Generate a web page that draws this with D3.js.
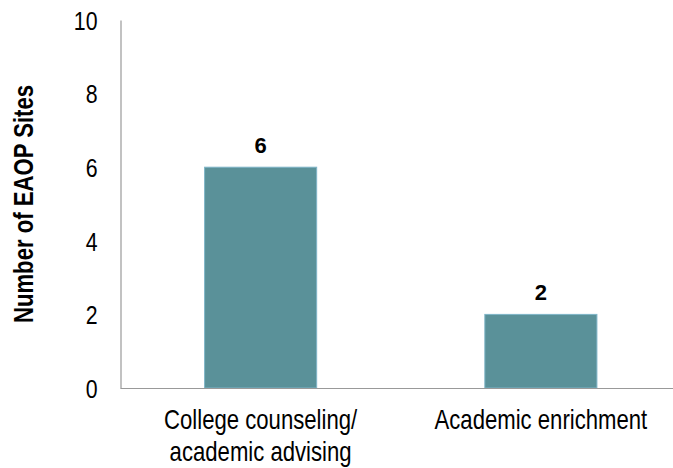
<!DOCTYPE html>
<html>
<head>
<meta charset="utf-8">
<script src="https://cdn.jsdelivr.net/npm/d3@7"></script>
<style>
  html, body { margin: 0; padding: 0; background: #fff; }
  svg { display: block; }
</style>
</head>
<body>
<svg id="chart" width="673" height="468"></svg>
<script>
// Services offered by EAOP sites
const categories = [["College counseling/", "academic advising"], ["Academic enrichment"]];
const siteCounts = [6, 2];
const yTicks = [0, 2, 4, 6, 8, 10];

const sans = "'Liberation Sans', Arial, sans-serif";
const condense = 0.82; // horizontal squeeze to get a narrow face

const svg = d3.select("#chart");
const plotLeft = 120.5, plotRight = 681, plotTop = 20, plotBottom = 388;

const x = d3.scaleBand()
  .domain(d3.range(categories.length))
  .range([plotLeft, plotRight])
  .paddingInner(0.6)
  .paddingOuter(0.3);

const y = d3.scaleLinear().domain([0, 10]).range([plotBottom, plotTop]);

// Bars
svg.selectAll("rect.bar")
  .data(siteCounts)
  .join("rect")
  .attr("class", "bar")
  .attr("x", (d, i) => x(i))
  .attr("width", x.bandwidth())
  .attr("y", d => y(d))
  .attr("height", d => y(0) - y(d))
  .attr("fill", "#5a9199")
  .attr("stroke", "#7fb5c8")
  .attr("stroke-width", 1);

// Value labels
svg.selectAll("text.value")
  .data(siteCounts)
  .join("text")
  .attr("class", "value")
  .attr("x", (d, i) => x(i) + x.bandwidth() / 2)
  .attr("y", d => y(d) - 14)
  .attr("text-anchor", "middle")
  .attr("font-family", sans)
  .attr("font-weight", "bold")
  .attr("font-size", 22)
  .attr("fill", "#000")
  .text(d => d);

// Y axis
const yAxis = svg.append("g")
  .attr("transform", `translate(${plotLeft},0)`)
  .call(d3.axisLeft(y).tickValues(yTicks).tickSize(0).tickPadding(0));
yAxis.select(".domain").attr("stroke", "#999").attr("stroke-width", 1.2);
yAxis.selectAll(".tick text")
  .attr("x", 0)
  .attr("dy", "0.36em")
  .attr("transform", `translate(-23,0) scale(${condense},1)`)
  .attr("font-family", sans)
  .attr("font-size", 26)
  .attr("fill", "#000");

// X baseline
svg.append("line")
  .attr("x1", plotLeft).attr("x2", 673)
  .attr("y1", y(0) + 0.5).attr("y2", y(0) + 0.5)
  .attr("stroke", "#999").attr("stroke-width", 1.2);

// Category labels
const catLabels = svg.selectAll("g.cat")
  .data(categories)
  .join("g")
  .attr("class", "cat")
  .attr("transform", (d, i) => `translate(${x(i) + x.bandwidth() / 2},429) scale(${condense},1)`)
  .append("text")
  .attr("text-anchor", "middle")
  .attr("font-family", sans)
  .attr("font-size", 27)
  .attr("fill", "#000");
catLabels.selectAll("tspan")
  .data(d => d)
  .join("tspan")
  .attr("x", 0)
  .attr("y", (d, j) => j * 32)
  .text(d => d);

// Y axis title
svg.append("text")
  .attr("transform", `translate(33,${(plotTop + plotBottom) / 2}) rotate(-90) scale(${condense},1)`)
  .attr("text-anchor", "middle")
  .attr("font-family", sans)
  .attr("font-weight", "bold")
  .attr("font-size", 27)
  .attr("fill", "#000")
  .text("Number of EAOP Sites");
</script>
</body>
</html>
